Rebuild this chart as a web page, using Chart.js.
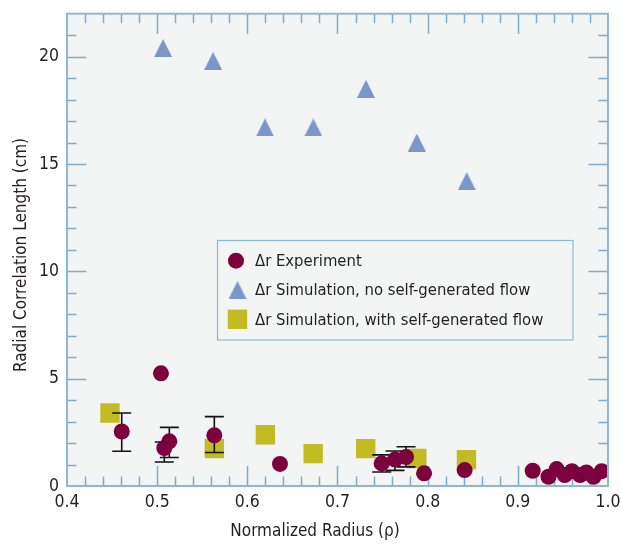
<!DOCTYPE html>
<html><head><meta charset="utf-8">
<script src="https://cdn.jsdelivr.net/npm/chart.js@4.4.1/dist/chart.umd.min.js"></script>
<style>html,body{margin:0;padding:0;background:#fff;}#wrap{width:622px;height:546px;}</style>
</head><body><div id="wrap"><canvas id="c" width="622" height="546"></canvas></div>
<script>
// ---- data ----
const expX = [0.4607, 0.5042, 0.5079, 0.5135, 0.5634, 0.6362, 0.749, 0.7638, 0.776, 0.796, 0.841, 0.9165, 0.934, 0.943, 0.952, 0.960, 0.969, 0.976, 0.984, 0.993];
const expY = [2.54, 5.25, 1.77, 2.08, 2.36, 1.03, 1.05, 1.23, 1.35, 0.59, 0.74, 0.71, 0.43, 0.79, 0.51, 0.69, 0.51, 0.63, 0.43, 0.69];
const expErrLow  = [1.62, null, 1.12, 1.33, 1.56, null, 0.65, 0.73, 0.89, null, null, null, null, null, null, null, null, null, null, null];
const expErrHigh = [3.40, null, 2.05, 2.73, 3.23, null, 1.45, 1.63, 1.83, null, null, null, null, null, null, null, null, null, null, null];
const simNoFlowX = [0.5065, 0.562, 0.6196, 0.6732, 0.7316, 0.788, 0.8433];
const simNoFlowY = [20.4, 19.8, 16.7, 16.7, 18.5, 16.0, 14.2];
const simFlowX = [0.4477, 0.5634, 0.620, 0.673, 0.7313, 0.788, 0.843];
const simFlowY = [3.40, 1.74, 2.39, 1.51, 1.74, 1.28, 1.23];
const xTickValues = [0.4, 0.5, 0.6, 0.7, 0.8, 0.9, 1.0];
const xTickLabels = ['0.4', '0.5', '0.6', '0.7', '0.8', '0.9', '1.0'];
const yTickValues = [0, 5, 10, 15, 20];
const yTickLabels = ['0', '5', '10', '15', '20'];
const seriesLabels = ['\u0394r Experiment', '\u0394r Simulation, no self-generated flow', '\u0394r Simulation, with self-generated flow'];
const xTitle = 'Normalized Radius (\u03c1)';
const yTitle = 'Radial Correlation Length (cm)';
const xRange = [0.4, 1.0], yRange = [0, 22];
const xMinorStep = 0.02, yMinorStep = 1;

// ---- styles ----
const FONT = "'Liberation Sans Narrow', 'DejaVu Sans Condensed', 'Roboto Condensed', sans-serif";
const TXT = '#231f20';
const C_EXP = '#7c003e', C_NOF = '#7b97c9', C_FLOW = '#c3bb22';
const PLOT_BG = '#f3f4f4', AXIS = '#8cb8d2', TICK = '#7eaccb';

function makeTri(w, h, color) {
  const cv = document.createElement('canvas'); cv.width = w; cv.height = h;
  const g = cv.getContext('2d'); g.fillStyle = color;
  g.beginPath(); g.moveTo(w / 2, 0); g.lineTo(w, h); g.lineTo(0, h); g.closePath(); g.fill();
  return cv;
}
const triStyle = makeTri(18, 18, C_NOF);

const bgPlugin = {
  id: 'bg',
  beforeDraw(chart) {
    const { ctx, chartArea: a } = chart;
    ctx.save(); ctx.fillStyle = '#fff'; ctx.fillRect(0, 0, chart.width, chart.height);
    ctx.fillStyle = PLOT_BG; ctx.fillRect(a.left, a.top, a.right - a.left, a.bottom - a.top);
    ctx.restore();
  },
  beforeDatasetsDraw(chart) {
    const { ctx, chartArea: a, scales: { x, y } } = chart;
    ctx.save(); ctx.strokeStyle = TICK; ctx.lineWidth = 1.5;
    const nx = Math.round((xRange[1] - xRange[0]) / xMinorStep);
    for (let i = 1; i < nx; i++) {
      const v = xRange[0] + i * xMinorStep;
      const major = i % 5 === 0;
      const L = major ? 20 : 9.5;
      const px = Math.round(x.getPixelForValue(v)) + 0.5;
      ctx.beginPath(); ctx.moveTo(px, a.bottom); ctx.lineTo(px, a.bottom - L);
      ctx.moveTo(px, a.top); ctx.lineTo(px, a.top + L); ctx.stroke();
    }
    const ny = Math.round((yRange[1] - yRange[0]) / yMinorStep);
    for (let i = 1; i < ny; i++) {
      const v = yRange[0] + i * yMinorStep;
      const major = i % 5 === 0;
      const L = major ? 19.5 : 9.5;
      const py = Math.round(y.getPixelForValue(v)) + 0.5;
      ctx.beginPath(); ctx.moveTo(a.left, py); ctx.lineTo(a.left + L, py);
      ctx.moveTo(a.right, py); ctx.lineTo(a.right - L, py); ctx.stroke();
    }
    ctx.restore();
  },
  beforeDatasetDraw(chart, args) {
    if (args.index !== 0) return;
    const { ctx, scales: { x, y } } = chart;
    ctx.save(); ctx.strokeStyle = '#111'; ctx.lineWidth = 1.6;
    expX.forEach((xv, i) => {
      if (expErrLow[i] == null) return;
      const px = x.getPixelForValue(xv);
      const p1 = y.getPixelForValue(expErrLow[i]), p2 = y.getPixelForValue(expErrHigh[i]);
      ctx.beginPath();
      ctx.moveTo(px, p1); ctx.lineTo(px, p2);
      ctx.moveTo(px - 9.5, p1); ctx.lineTo(px + 9.5, p1);
      ctx.moveTo(px - 9.5, p2); ctx.lineTo(px + 9.5, p2);
      ctx.stroke();
    });
    ctx.restore();
  },
  afterDatasetsDraw(chart) {
    const { ctx, chartArea: a } = chart;
    ctx.save();
    ctx.strokeStyle = AXIS; ctx.lineWidth = 2;
    ctx.strokeRect(a.left, a.top, a.right - a.left, a.bottom - a.top);
    // legend box
    const L = { x: 217.5, y: 240.5, w: 355.5, h: 99.5 };
    ctx.fillStyle = PLOT_BG; ctx.fillRect(L.x, L.y, L.w, L.h);
    ctx.strokeStyle = AXIS; ctx.lineWidth = 1.2; ctx.strokeRect(L.x, L.y, L.w, L.h);
    const rows = [260.7, 290, 319.3];
    ctx.fillStyle = C_EXP; ctx.beginPath(); ctx.arc(236, rows[0], 8, 0, Math.PI * 2); ctx.fill();
    ctx.drawImage(triStyle, 237.5 - 9, rows[1] - 9);
    ctx.fillStyle = C_FLOW; ctx.fillRect(237.5 - 9.7, rows[2] - 9.7, 19.4, 19.4);
    ctx.fillStyle = TXT; ctx.font = '16.5px ' + FONT; ctx.textBaseline = 'middle'; ctx.textAlign = 'left';
    seriesLabels.forEach((t, i) => ctx.fillText(t, 255, rows[i] + 1));
    ctx.restore();
  },
  afterDraw(chart) {
    const { ctx } = chart;
    ctx.save(); ctx.fillStyle = TXT; ctx.font = '17px ' + FONT;
    ctx.textAlign = 'center'; ctx.textBaseline = 'middle';
    ctx.fillText(xTitle, 315, 532);
    ctx.translate(22, 255); ctx.rotate(-Math.PI / 2); ctx.fillText(yTitle, 0, 0);
    ctx.restore();
  }
};

new Chart(document.getElementById('c'), {
  type: 'scatter',
  data: {
    datasets: [
      { label: seriesLabels[0], data: expX.map((v, i) => ({ x: v, y: expY[i] })), pointStyle: 'circle', pointRadius: 8, backgroundColor: C_EXP, borderWidth: 0, order: 0, clip: 0 },
      { label: seriesLabels[1], data: simNoFlowX.map((v, i) => ({ x: v, y: simNoFlowY[i] })), pointStyle: triStyle, pointRadius: 9, backgroundColor: C_NOF, borderWidth: 0, order: 1 },
      { label: seriesLabels[2], data: simFlowX.map((v, i) => ({ x: v, y: simFlowY[i] })), pointStyle: 'rect', pointRadius: 13.7, backgroundColor: C_FLOW, borderWidth: 0, order: 2 }
    ]
  },
  options: {
    responsive: false, animation: false, devicePixelRatio: 1,
    layout: { padding: { top: 10, right: 14, left: 0, bottom: 0 } },
    plugins: { legend: { display: false }, tooltip: { enabled: false } },
    scales: {
      x: {
        type: 'linear', min: xRange[0], max: xRange[1],
        afterBuildTicks: s => { s.ticks = xTickValues.map(v => ({ value: v })); },
        afterFit: s => { s.height = 60; s.paddingLeft = 0; s.paddingRight = 0; },
        ticks: { callback: (v) => xTickLabels[xTickValues.findIndex(t => Math.abs(t - v) < 1e-9)], font: { family: FONT, size: 17.5 }, color: TXT, padding: 6, maxRotation: 0, autoSkip: false },
        grid: { display: false, drawTicks: false }, border: { display: false }
      },
      y: {
        type: 'linear', min: yRange[0], max: yRange[1],
        afterBuildTicks: s => { s.ticks = yTickValues.map(v => ({ value: v })); },
        afterFit: s => { s.width = 67; s.paddingTop = 0; s.paddingBottom = 0; },
        ticks: { callback: (v) => yTickLabels[yTickValues.indexOf(v)], font: { family: FONT, size: 17.5 }, color: TXT, padding: 8, autoSkip: false },
        grid: { display: false, drawTicks: false }, border: { display: false }
      }
    }
  },
  plugins: [bgPlugin]
});
</script></body></html>
